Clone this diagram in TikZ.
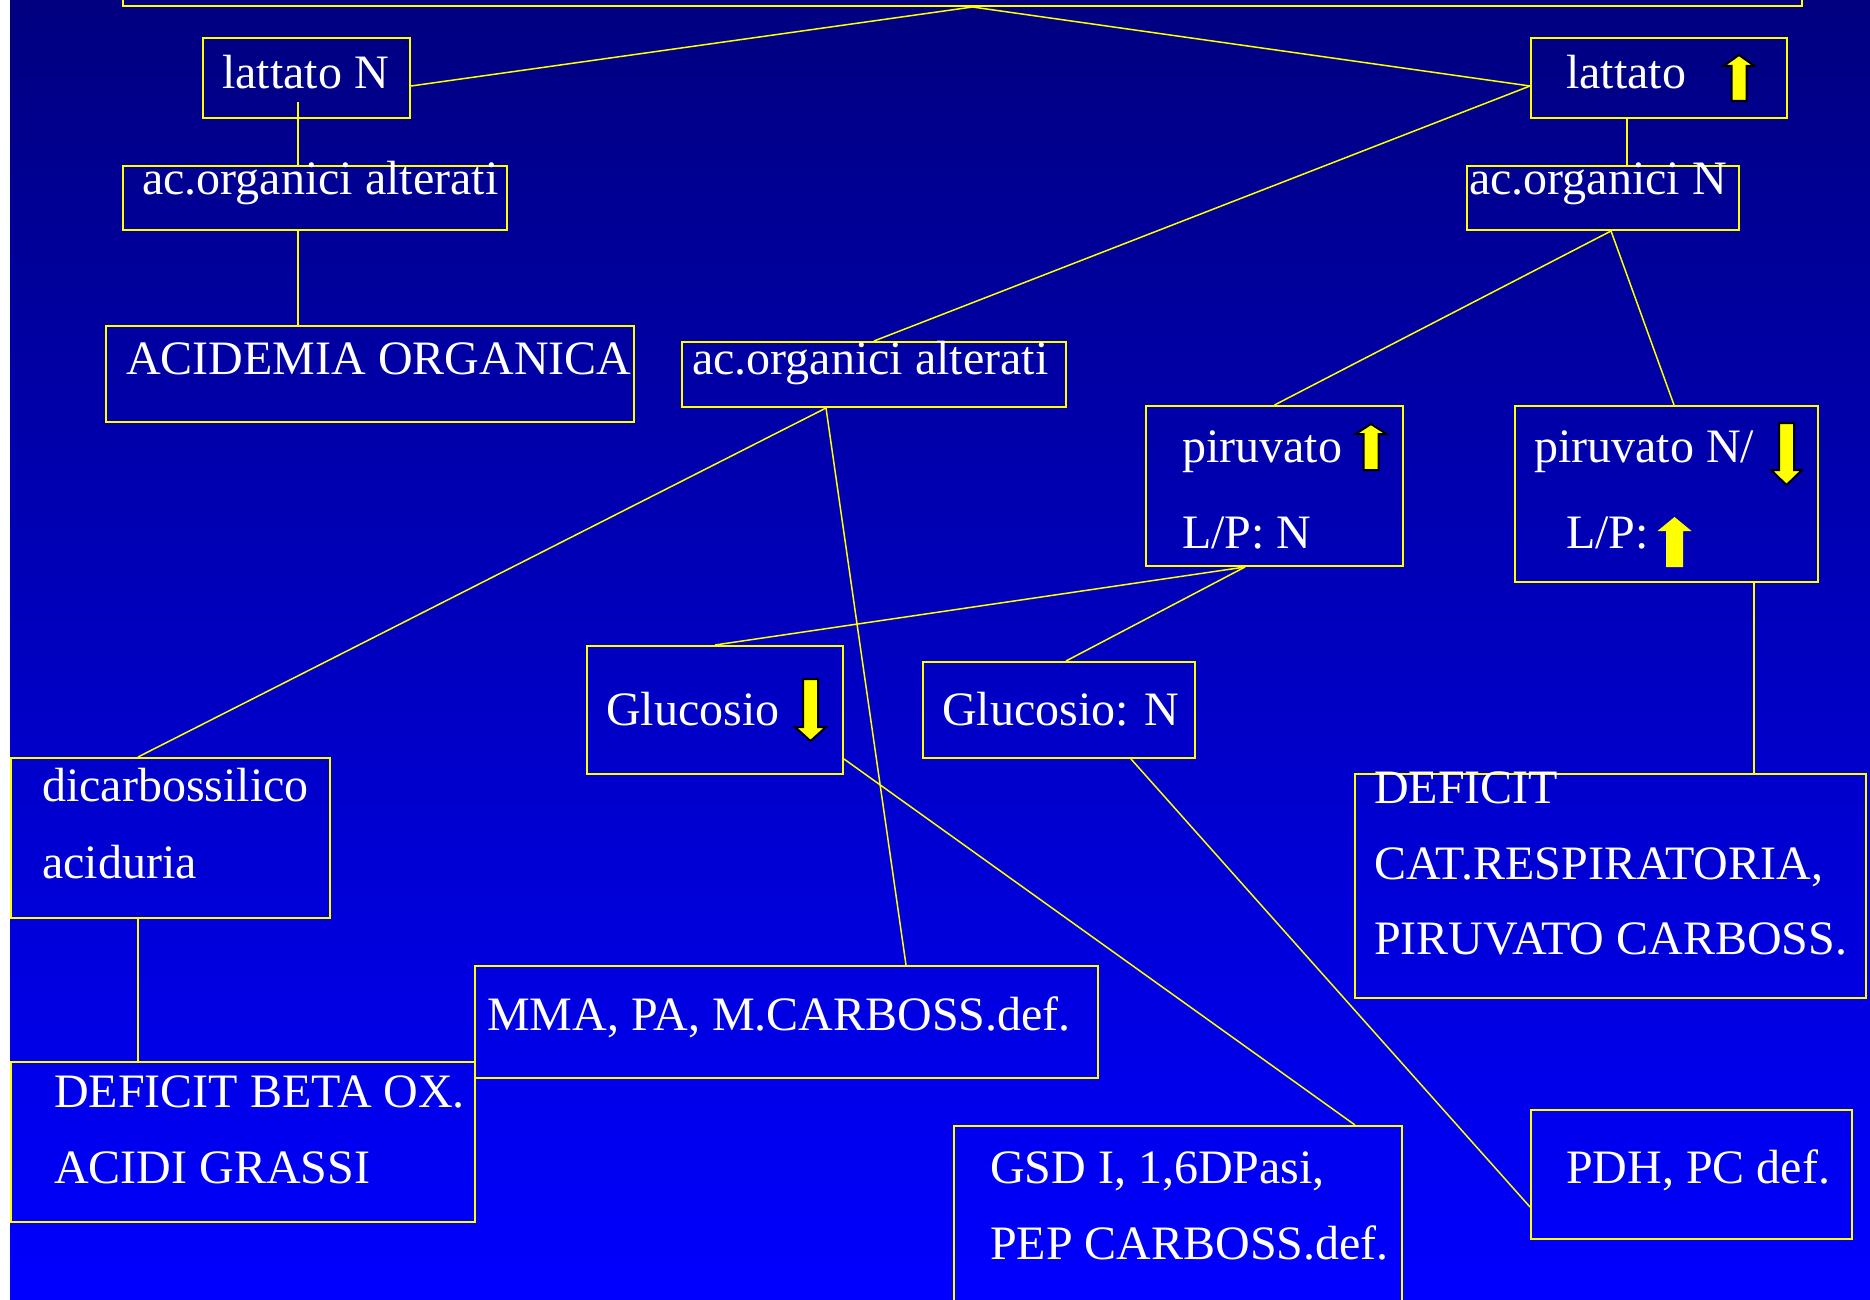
\documentclass[tikz,border=0pt]{standalone}
\usepackage{fontspec}
\setmainfont{Liberation Serif}
\usetikzlibrary{fit}
\definecolor{bgtop}{RGB}{0,0,128}
\definecolor{bgbot}{RGB}{0,0,255}
\definecolor{ylw}{RGB}{255,255,0}
\tikzset{
  box/.style={draw=ylw, line width=2pt, inner sep=0pt, rectangle},
  conn/.style={draw=ylw, line width=1.5pt},
  txt/.style={text=white, font=\fontsize{48}{58}\selectfont, inner sep=0pt, anchor=base west},
  arrowout/.style={fill=ylw, draw=black, line width=2pt, line join=miter},
  arrowplain/.style={fill=ylw},
}
% #1 style, #2 cx, #3 shaft half width, #4 head half width, #5 tip y, #6 head base y, #7 tail y
\newcommand{\blockarr}[7]{%
  \path[#1] ({#2-#3},#7) -- ({#2-#3},#6) -- ({#2-#4},#6) -- (#2,#5) -- ({#2+#4},#6) -- ({#2+#3},#6) -- ({#2+#3},#7) -- cycle;}
\begin{document}
\begin{tikzpicture}[x=1pt, y=-1pt]
\useasboundingbox (0,0) rectangle (1870,1300);
\clip (0,0) rectangle (1870,1300);
\fill[white] (0pt,0pt) rectangle (1870pt,-1300pt);
\fill[top color=bgtop, bottom color=bgbot] (10pt,0pt) rectangle (1870pt,-1300pt);

% boxes
\node[box, fit={(123,-40) (1802,6)}] (top) {};
\node[box, fit={(203,38) (410,118)}] (latN) {};
\node[box, fit={(1531,38) (1787,118)}] (latU) {};
\node[box, fit={(123,166) (507,230)}] (acAltL) {};
\node[box, fit={(1467,166) (1739,230)}] (acN) {};
\node[box, fit={(106,326) (634,422)}] (acid) {};
\node[box, fit={(682,342) (1066,407)}] (acAltM) {};
\node[box, fit={(1146,406) (1403,566)}] (piru) {};
\node[box, fit={(1515,406) (1818,582)}] (piruN) {};
\node[box, fit={(587,646) (843,774)}] (glucD) {};
\node[box, fit={(923,662) (1195,758)}] (glucN) {};
\node[box, fit={(11,758) (330,918)}] (dicarb) {};
\node[box, fit={(1355,774) (1866,998)}] (defCat) {};
\node[box, fit={(475,966) (1098,1078)}] (mma) {};
\node[box, fit={(11,1062) (475,1222)}] (defBeta) {};
\node[box, fit={(954,1126) (1402,1340)}] (gsd) {};
\node[box, fit={(1531,1110) (1852,1239)}] (pdh) {};

% connectors
\draw[conn] ([xshift=10pt]top.south) -- ([yshift=-8pt]latN.east);
\draw[conn] ([xshift=10pt]top.south) -- ([yshift=-8pt]latU.west);
\draw[conn] ([yshift=-8pt]latU.west) -- (acAltM.north);
\draw[conn] ([xshift=-8.5pt,yshift=-24pt]latN.center) -- ([xshift=-8.5pt]latN.center |- acAltL.north);
\draw[conn] ([xshift=-17pt]acAltL.south) -- ([xshift=-17pt]acAltL.south |- acid.north);
\draw[conn] ([xshift=-32pt]latU.south) -- ([xshift=-32pt]latU.south |- acN.north);
\draw[conn] ([xshift=8pt]acN.south) -- (piru.north);
\draw[conn] ([xshift=8pt]acN.south) -- ([xshift=7.5pt]piruN.north);
\draw[conn] ([xshift=-48pt]acAltM.south) -- ([xshift=-32.5pt]dicarb.north);
\draw[conn] ([xshift=-48pt]acAltM.south) -- ([xshift=119.5pt]mma.north);
\draw[conn] ([xshift=-29.5pt]piru.south) -- (glucD.north);
\draw[conn] ([xshift=-29.5pt]piru.south) -- ([xshift=7pt]glucN.north);
\draw[conn] ([xshift=87.5pt]piruN.south) -- ([xshift=87.5pt]piruN.south |- defCat.north);
\draw[conn] ([yshift=16pt]glucD.south east) -- ([xshift=177pt]gsd.north);
\draw[conn] ([xshift=72pt]glucN.south) -- ([yshift=-32.5pt]pdh.west);
\draw[conn] ([xshift=-32.5pt]dicarb.south) -- ([xshift=-32.5pt]dicarb.south |- defBeta.north);

% texts
\node[txt] (tLatN) at (222,89) {lattato N};
\node[txt] (tLatU) at (1566,89) {lattato};
\node[txt] (tAcAltL) at (142,194) {ac.organici alterati};
\node[txt] (tAcN) at (1469,194) {ac.organici N};
\node[txt] (tAcid) at (126,374) {ACIDEMIA ORGANICA};
\node[txt] (tAcAltM) at (692,374) {ac.organici alterati};
\node[txt] (tPiru1) at (1182,462) {piruvato};
\node[txt] (tPiru2) at (1182,548) {L/P: N};
\node[txt] (tPiruN1) at (1534,462) {piruvato N/};
\node[txt] (tPiruN2) at (1566,548) {L/P:};
\node[txt] (tGlucD) at (606,725) {Glucosio};
\node[txt] (tGlucN) at (942,725) {Glucosio: N};
\node[txt] (tDic1) at (42,801) {dicarbossilico};
\node[txt] (tDic2) at (42,878) {aciduria};
\node[txt] (tCat1) at (1374,803) {DEFICIT};
\node[txt] (tCat2) at (1374,879) {CAT.RESPIRATORIA,};
\node[txt] (tCat3) at (1374,954) {PIRUVATO CARBOSS.};
\node[txt] (tMma) at (487,1030) {MMA, PA, M.CARBOSS.def.};
\node[txt] (tBeta1) at (54,1107) {DEFICIT BETA OX.};
\node[txt] (tBeta2) at (54,1183) {ACIDI GRASSI};
\node[txt] (tGsd1) at (990,1183) {GSD I, 1,6DPasi,};
\node[txt] (tGsd2) at (990,1259) {PEP CARBOSS.def.};
\node[txt] (tPdh) at (1566,1183) {PDH, PC def.};

% block arrows
\blockarr{arrowout}{1739}{7.5}{15.5}{55}{66}{101}
\blockarr{arrowout}{1371}{7.5}{15.5}{424}{434}{470}
\blockarr{arrowout}{1786.5}{7.5}{15.5}{485}{470}{423}
\blockarr{arrowout}{810.5}{7.5}{15.5}{741}{727}{679}
\blockarr{arrowplain}{1674.5}{8.5}{17}{517}{531}{567}
\end{tikzpicture}
\end{document}
